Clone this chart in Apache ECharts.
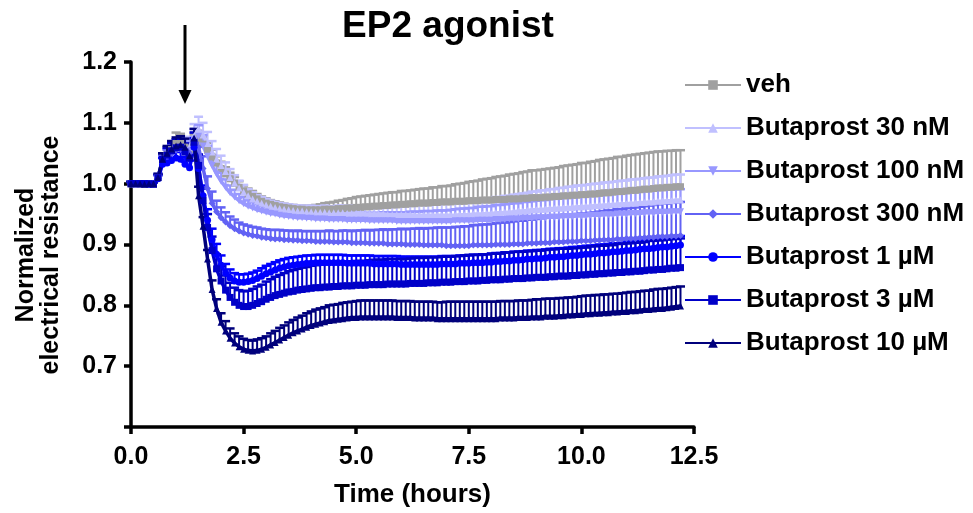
<!DOCTYPE html>
<html><head><meta charset="utf-8">
<script src="https://cdn.jsdelivr.net/npm/echarts@6/dist/echarts.min.js"></script>
<style>html,body{margin:0;padding:0;background:#fff}#c{width:973px;height:513px}</style>
</head><body><div id="c"></div>
<script>
// time (hours)
const times = [
0.0,0.1,0.2,0.3,0.4,0.5,0.6,0.7,0.8,0.9,
1.0,1.1,1.2,1.3,1.4,1.5,1.6,1.7,1.8,1.9,
2.0,2.1,2.2,2.3,2.4,2.5,2.6,2.7,2.8,2.9,
3.0,3.1,3.2,3.3,3.4,3.5,3.6,3.7,3.8,3.9,
4.0,4.1,4.2,4.3,4.4,4.5,4.6,4.7,4.8,4.9,
5.0,5.1,5.2,5.3,5.4,5.5,5.6,5.7,5.8,5.9,
6.0,6.1,6.2,6.3,6.4,6.5,6.6,6.7,6.8,6.9,
7.0,7.1,7.2,7.3,7.4,7.5,7.6,7.7,7.8,7.9,
8.0,8.1,8.2,8.3,8.4,8.5,8.6,8.7,8.8,8.9,
9.0,9.1,9.2,9.3,9.4,9.5,9.6,9.7,9.8,9.9,
10.0,10.1,10.2,10.3,10.4,10.5,10.6,10.7,10.8,10.9,
11.0,11.1,11.2,11.3,11.4,11.5,11.6,11.7,11.8,11.9,
12.0,12.1,12.2];

const seriesNames = ['veh','Butaprost 30 nM','Butaprost 100 nM','Butaprost 300 nM','Butaprost 1 µM','Butaprost 3 µM','Butaprost 10 µM'];

const vehMean = [
1.000,1.000,0.999,1.000,1.000,0.999,1.010,1.040,1.048,1.056,
1.066,1.066,1.060,1.055,1.068,1.075,1.065,1.055,1.044,1.034,
1.025,1.016,1.008,1.001,0.994,0.988,0.983,0.979,0.975,0.971,
0.968,0.966,0.964,0.962,0.961,0.960,0.959,0.958,0.958,0.957,
0.957,0.957,0.957,0.958,0.958,0.958,0.959,0.959,0.960,0.960,
0.961,0.961,0.962,0.962,0.963,0.963,0.964,0.964,0.965,0.965,
0.966,0.966,0.967,0.967,0.968,0.968,0.968,0.969,0.969,0.970,
0.970,0.970,0.971,0.971,0.971,0.972,0.972,0.972,0.973,0.973,
0.973,0.974,0.974,0.974,0.975,0.975,0.975,0.976,0.976,0.977,
0.977,0.977,0.978,0.978,0.979,0.979,0.980,0.980,0.981,0.981,
0.982,0.982,0.983,0.983,0.984,0.985,0.985,0.986,0.987,0.987,
0.988,0.989,0.989,0.990,0.991,0.991,0.992,0.993,0.993,0.994,
0.994,0.995,0.995];
const vehErr = [
0.003,0.003,0.003,0.003,0.003,0.003,0.006,0.010,0.012,0.014,
0.018,0.016,0.012,0.012,0.012,0.012,0.012,0.012,0.012,0.011,
0.011,0.011,0.010,0.010,0.010,0.009,0.009,0.009,0.008,0.008,
0.008,0.007,0.007,0.007,0.006,0.006,0.006,0.006,0.006,0.006,
0.007,0.008,0.009,0.010,0.011,0.012,0.013,0.014,0.015,0.016,
0.017,0.018,0.018,0.019,0.019,0.020,0.020,0.021,0.021,0.021,
0.022,0.022,0.022,0.023,0.023,0.024,0.024,0.025,0.025,0.026,
0.026,0.027,0.028,0.029,0.030,0.031,0.032,0.033,0.034,0.035,
0.036,0.037,0.038,0.039,0.040,0.041,0.042,0.043,0.044,0.045,
0.045,0.046,0.046,0.047,0.047,0.048,0.049,0.050,0.050,0.051,
0.052,0.052,0.053,0.054,0.055,0.055,0.056,0.056,0.057,0.057,
0.058,0.058,0.059,0.059,0.059,0.060,0.060,0.060,0.060,0.060,
0.060,0.060,0.060];

const b30Mean = [
1.000,0.999,1.000,1.000,0.999,1.000,1.010,1.038,1.046,1.053,
1.058,1.060,1.058,1.060,1.078,1.090,1.080,1.066,1.052,1.040,
1.030,1.020,1.010,1.001,0.993,0.986,0.980,0.975,0.971,0.968,
0.965,0.963,0.961,0.959,0.958,0.957,0.956,0.955,0.955,0.954,
0.954,0.953,0.953,0.953,0.952,0.952,0.952,0.952,0.951,0.951,
0.951,0.951,0.950,0.950,0.950,0.950,0.950,0.949,0.949,0.949,
0.949,0.949,0.949,0.948,0.948,0.948,0.948,0.948,0.948,0.948,
0.948,0.948,0.948,0.949,0.949,0.949,0.950,0.950,0.950,0.951,
0.951,0.952,0.952,0.953,0.953,0.954,0.955,0.955,0.956,0.957,
0.957,0.958,0.958,0.959,0.959,0.960,0.960,0.961,0.961,0.962,
0.962,0.963,0.963,0.964,0.964,0.965,0.965,0.966,0.966,0.967,
0.967,0.968,0.968,0.969,0.969,0.970,0.970,0.971,0.971,0.972,
0.972,0.973,0.973];
const b30Err = [
0.003,0.003,0.003,0.003,0.003,0.003,0.006,0.010,0.012,0.014,
0.015,0.016,0.016,0.017,0.020,0.020,0.020,0.019,0.018,0.017,
0.016,0.015,0.014,0.013,0.012,0.012,0.011,0.011,0.010,0.010,
0.010,0.009,0.009,0.009,0.009,0.009,0.009,0.009,0.009,0.009,
0.010,0.010,0.010,0.011,0.011,0.011,0.012,0.012,0.012,0.013,
0.013,0.013,0.014,0.014,0.014,0.015,0.015,0.015,0.016,0.016,
0.016,0.017,0.017,0.017,0.018,0.018,0.018,0.019,0.019,0.020,
0.020,0.021,0.021,0.022,0.022,0.023,0.023,0.024,0.024,0.025,
0.025,0.026,0.026,0.027,0.027,0.028,0.028,0.029,0.029,0.030,
0.030,0.031,0.031,0.032,0.032,0.033,0.033,0.034,0.034,0.035,
0.035,0.035,0.036,0.036,0.036,0.037,0.037,0.037,0.038,0.038,
0.038,0.039,0.039,0.039,0.040,0.040,0.040,0.041,0.041,0.041,
0.042,0.042,0.042];

const b100Mean = [
1.000,1.000,1.000,0.999,1.000,1.000,1.008,1.038,1.045,1.052,
1.057,1.058,1.054,1.055,1.072,1.078,1.062,1.045,1.030,1.016,
1.004,0.994,0.985,0.978,0.972,0.967,0.963,0.960,0.957,0.955,
0.953,0.951,0.950,0.948,0.947,0.946,0.945,0.944,0.944,0.943,
0.943,0.942,0.942,0.942,0.941,0.941,0.941,0.941,0.940,0.940,
0.940,0.940,0.940,0.939,0.939,0.939,0.939,0.939,0.939,0.938,
0.938,0.938,0.938,0.938,0.938,0.938,0.938,0.938,0.938,0.938,
0.938,0.938,0.939,0.939,0.939,0.939,0.939,0.940,0.940,0.940,
0.940,0.941,0.941,0.941,0.942,0.942,0.942,0.943,0.943,0.943,
0.944,0.944,0.944,0.945,0.945,0.945,0.946,0.946,0.946,0.947,
0.947,0.947,0.948,0.948,0.948,0.949,0.949,0.949,0.950,0.950,
0.950,0.951,0.951,0.951,0.952,0.952,0.952,0.953,0.953,0.953,
0.954,0.954,0.954];
const b100Err = [
0.003,0.003,0.003,0.003,0.003,0.003,0.006,0.010,0.012,0.013,
0.014,0.015,0.015,0.015,0.018,0.018,0.018,0.017,0.016,0.015,
0.014,0.013,0.012,0.012,0.011,0.011,0.010,0.010,0.010,0.009,
0.009,0.009,0.009,0.009,0.009,0.009,0.009,0.009,0.009,0.009,
0.009,0.010,0.010,0.010,0.010,0.011,0.011,0.011,0.011,0.012,
0.012,0.012,0.012,0.013,0.013,0.013,0.014,0.014,0.014,0.015,
0.015,0.015,0.016,0.016,0.016,0.017,0.017,0.017,0.018,0.018,
0.018,0.019,0.019,0.020,0.020,0.021,0.021,0.022,0.022,0.023,
0.023,0.024,0.024,0.025,0.025,0.026,0.026,0.027,0.027,0.028,
0.028,0.029,0.029,0.030,0.030,0.031,0.031,0.031,0.032,0.032,
0.032,0.033,0.033,0.033,0.034,0.034,0.034,0.035,0.035,0.035,
0.035,0.036,0.036,0.036,0.036,0.037,0.037,0.037,0.037,0.037,
0.037,0.037,0.037];

const b300Mean = [
1.000,1.000,0.999,1.000,1.000,1.000,1.008,1.036,1.044,1.050,
1.055,1.056,1.052,1.050,1.068,1.060,1.025,0.992,0.968,0.954,
0.944,0.937,0.931,0.926,0.922,0.919,0.917,0.915,0.914,0.912,
0.911,0.910,0.909,0.909,0.908,0.908,0.907,0.907,0.906,0.906,
0.906,0.905,0.905,0.905,0.905,0.904,0.904,0.904,0.904,0.903,
0.903,0.903,0.903,0.902,0.902,0.902,0.902,0.901,0.901,0.901,
0.901,0.900,0.900,0.900,0.900,0.899,0.899,0.899,0.899,0.899,
0.898,0.898,0.898,0.898,0.898,0.898,0.899,0.899,0.899,0.899,
0.899,0.900,0.900,0.900,0.900,0.901,0.901,0.901,0.902,0.902,
0.902,0.903,0.903,0.903,0.904,0.904,0.904,0.905,0.905,0.905,
0.906,0.906,0.906,0.907,0.907,0.908,0.908,0.908,0.909,0.909,
0.910,0.910,0.910,0.911,0.911,0.912,0.912,0.913,0.913,0.913,
0.914,0.914,0.915];
const b300Err = [
0.003,0.003,0.003,0.003,0.003,0.003,0.006,0.010,0.012,0.013,
0.014,0.014,0.014,0.014,0.016,0.018,0.020,0.020,0.019,0.018,
0.017,0.016,0.015,0.015,0.014,0.014,0.014,0.014,0.014,0.014,
0.014,0.014,0.015,0.015,0.015,0.015,0.015,0.016,0.016,0.016,
0.016,0.017,0.017,0.017,0.018,0.018,0.018,0.019,0.019,0.019,
0.020,0.020,0.021,0.021,0.022,0.022,0.023,0.023,0.024,0.024,
0.025,0.025,0.026,0.026,0.027,0.027,0.028,0.028,0.029,0.029,
0.030,0.030,0.031,0.031,0.032,0.032,0.033,0.033,0.034,0.034,
0.035,0.035,0.036,0.036,0.037,0.037,0.038,0.038,0.039,0.039,
0.040,0.040,0.041,0.041,0.042,0.042,0.043,0.043,0.044,0.044,
0.045,0.045,0.046,0.046,0.047,0.047,0.048,0.048,0.049,0.049,
0.050,0.050,0.051,0.051,0.052,0.052,0.053,0.053,0.054,0.054,
0.055,0.055,0.055];

const b1Mean = [
1.000,1.000,1.000,1.000,0.999,1.000,1.008,1.032,1.034,1.038,
1.042,1.040,1.032,1.026,1.060,1.025,0.980,0.940,0.908,0.884,
0.866,0.853,0.845,0.840,0.838,0.838,0.839,0.841,0.844,0.848,
0.852,0.855,0.858,0.861,0.863,0.865,0.866,0.867,0.868,0.869,
0.869,0.870,0.870,0.870,0.870,0.870,0.870,0.870,0.869,0.869,
0.869,0.869,0.869,0.869,0.868,0.868,0.868,0.868,0.868,0.868,
0.867,0.867,0.867,0.867,0.867,0.867,0.867,0.867,0.867,0.868,
0.868,0.868,0.868,0.869,0.869,0.869,0.870,0.870,0.870,0.871,
0.871,0.872,0.872,0.873,0.873,0.874,0.874,0.875,0.876,0.876,
0.877,0.877,0.878,0.879,0.879,0.880,0.880,0.881,0.882,0.882,
0.883,0.884,0.884,0.885,0.886,0.886,0.887,0.888,0.888,0.889,
0.890,0.890,0.891,0.892,0.893,0.893,0.894,0.895,0.896,0.896,
0.897,0.898,0.899];
const b1Err = [
0.003,0.003,0.003,0.003,0.003,0.003,0.006,0.010,0.011,0.012,
0.012,0.012,0.012,0.012,0.015,0.016,0.017,0.018,0.018,0.017,
0.016,0.015,0.014,0.013,0.013,0.013,0.013,0.013,0.013,0.013,
0.013,0.013,0.013,0.013,0.013,0.013,0.013,0.013,0.013,0.013,
0.013,0.013,0.013,0.013,0.013,0.013,0.013,0.013,0.013,0.013,
0.013,0.013,0.013,0.013,0.013,0.013,0.013,0.013,0.013,0.013,
0.013,0.013,0.013,0.013,0.013,0.013,0.013,0.013,0.013,0.013,
0.013,0.013,0.013,0.013,0.013,0.013,0.013,0.013,0.013,0.013,
0.014,0.014,0.014,0.014,0.014,0.014,0.014,0.014,0.014,0.014,
0.014,0.014,0.014,0.014,0.014,0.014,0.014,0.014,0.014,0.014,
0.014,0.014,0.014,0.014,0.014,0.014,0.014,0.014,0.014,0.014,
0.015,0.015,0.015,0.015,0.015,0.015,0.015,0.015,0.015,0.015,
0.015,0.015,0.015];

const b3Mean = [
1.000,1.000,1.000,1.000,1.000,0.999,1.010,1.040,1.047,1.054,
1.059,1.060,1.052,1.042,1.068,1.030,0.972,0.928,0.890,0.860,
0.840,0.825,0.813,0.805,0.800,0.798,0.798,0.800,0.803,0.806,
0.810,0.813,0.816,0.818,0.820,0.822,0.823,0.825,0.826,0.827,
0.828,0.829,0.829,0.830,0.830,0.831,0.831,0.832,0.832,0.832,
0.833,0.833,0.833,0.834,0.834,0.834,0.834,0.835,0.835,0.835,
0.835,0.835,0.836,0.836,0.836,0.836,0.837,0.837,0.837,0.838,
0.838,0.838,0.839,0.839,0.839,0.840,0.840,0.840,0.841,0.841,
0.842,0.842,0.842,0.843,0.843,0.844,0.844,0.844,0.845,0.845,
0.846,0.846,0.846,0.847,0.847,0.848,0.848,0.848,0.849,0.849,
0.850,0.850,0.851,0.851,0.852,0.852,0.853,0.853,0.854,0.854,
0.855,0.855,0.856,0.856,0.857,0.858,0.858,0.859,0.859,0.860,
0.861,0.861,0.862];
const b3Err = [
0.003,0.003,0.003,0.003,0.003,0.003,0.006,0.010,0.012,0.013,
0.014,0.014,0.014,0.014,0.016,0.018,0.020,0.022,0.023,0.024,
0.024,0.024,0.024,0.024,0.025,0.025,0.026,0.027,0.028,0.028,
0.029,0.030,0.031,0.032,0.033,0.034,0.035,0.035,0.036,0.036,
0.037,0.037,0.038,0.038,0.038,0.039,0.039,0.039,0.040,0.040,
0.040,0.040,0.040,0.040,0.041,0.041,0.041,0.041,0.041,0.041,
0.041,0.041,0.041,0.042,0.042,0.042,0.042,0.042,0.042,0.042,
0.042,0.042,0.042,0.042,0.043,0.043,0.043,0.043,0.043,0.043,
0.043,0.043,0.043,0.044,0.044,0.044,0.044,0.044,0.044,0.044,
0.044,0.044,0.045,0.045,0.045,0.045,0.045,0.045,0.045,0.045,
0.045,0.045,0.046,0.046,0.046,0.046,0.046,0.046,0.047,0.047,
0.047,0.047,0.047,0.047,0.047,0.048,0.048,0.048,0.048,0.048,
0.048,0.048,0.048];

const b10Mean = [
1.000,1.000,1.000,0.999,1.000,1.000,1.010,1.040,1.050,1.057,
1.062,1.064,1.060,1.046,1.075,0.980,0.930,0.876,0.826,0.795,
0.772,0.758,0.746,0.738,0.732,0.728,0.726,0.725,0.726,0.728,
0.731,0.735,0.739,0.743,0.747,0.751,0.755,0.758,0.761,0.764,
0.767,0.769,0.771,0.773,0.775,0.776,0.777,0.778,0.779,0.780,
0.780,0.781,0.781,0.781,0.781,0.781,0.781,0.781,0.781,0.780,
0.780,0.780,0.780,0.779,0.779,0.779,0.779,0.779,0.778,0.778,
0.778,0.778,0.778,0.778,0.778,0.778,0.778,0.778,0.778,0.778,
0.778,0.778,0.779,0.779,0.779,0.779,0.780,0.780,0.780,0.781,
0.781,0.781,0.782,0.782,0.782,0.783,0.783,0.784,0.784,0.785,
0.785,0.786,0.786,0.787,0.787,0.788,0.788,0.789,0.789,0.790,
0.790,0.791,0.791,0.792,0.793,0.793,0.794,0.795,0.795,0.796,
0.797,0.798,0.799];
const b10Err = [
0.003,0.003,0.003,0.003,0.003,0.003,0.006,0.010,0.012,0.013,
0.014,0.014,0.014,0.014,0.015,0.015,0.015,0.015,0.015,0.015,
0.015,0.016,0.016,0.016,0.017,0.017,0.017,0.017,0.018,0.018,
0.018,0.019,0.019,0.020,0.020,0.021,0.021,0.022,0.022,0.023,
0.023,0.024,0.024,0.024,0.025,0.025,0.025,0.026,0.026,0.026,
0.027,0.027,0.027,0.027,0.027,0.027,0.027,0.027,0.027,0.027,
0.027,0.027,0.027,0.027,0.027,0.027,0.027,0.027,0.027,0.027,
0.028,0.028,0.028,0.028,0.028,0.028,0.028,0.028,0.028,0.028,
0.028,0.028,0.028,0.028,0.028,0.028,0.028,0.028,0.028,0.028,
0.029,0.029,0.029,0.029,0.029,0.029,0.029,0.029,0.029,0.029,
0.030,0.030,0.030,0.030,0.030,0.030,0.030,0.030,0.030,0.030,
0.031,0.031,0.031,0.031,0.031,0.031,0.032,0.032,0.032,0.032,
0.032,0.032,0.032];

const xTicks = [0, 2.5, 5, 7.5, 10, 12.5];
const yTicks = [0.7, 0.8, 0.9, 1.0, 1.1, 1.2];

const FONT = '"Liberation Sans", Arial, Helvetica, sans-serif';
const colors = ['#a0a0a0', '#c0c0ff', '#9898ff', '#6262f4', '#0000ff', '#0000c8', '#00007c'];
const symbols = ['rect', 'triangle', 'triangle', 'diamond', 'circle', 'rect', 'triangle'];
const rotations = [0, 0, 180, 0, 0, 0, 0];
const means = [vehMean, b30Mean, b100Mean, b300Mean, b1Mean, b3Mean, b10Mean];
const errs = [vehErr, b30Err, b100Err, b300Err, b1Err, b3Err, b10Err];

function errRender(color) {
  return function (params, api) {
    const x = api.value(0), y = api.value(1), e = api.value(2);
    const p0 = api.coord([x, y]);
    const p1 = api.coord([x, y + e]);
    return {
      type: 'group',
      children: [
        { type: 'line', shape: { x1: p0[0], y1: p0[1], x2: p1[0], y2: p1[1] }, style: { stroke: color, lineWidth: 2 } },
        { type: 'line', shape: { x1: p1[0] - 4.5, y1: p1[1], x2: p1[0] + 4.5, y2: p1[1] }, style: { stroke: color, lineWidth: 2.5 } }
      ]
    };
  };
}

const series = [];
seriesNames.forEach((name, k) => {
  series.push({
    type: 'custom',
    name: name + ' SEM',
    renderItem: errRender(colors[k]),
    data: times.map((t, i) => [t, means[k][i], errs[k][i]]),
    encode: { x: 0, y: 1 },
    silent: true,
    animation: false
  });
  series.push({
    type: 'line',
    name: name,
    data: times.map((t, i) => [t, means[k][i]]),
    symbol: symbols[k],
    symbolRotate: rotations[k],
    symbolSize: 7,
    showSymbol: true,
    lineStyle: { color: colors[k], width: 3.5 },
    itemStyle: { color: colors[k] },
    animation: false
  });
});

const chart = echarts.init(document.getElementById('c'));
chart.setOption({
  animation: false,
  backgroundColor: '#fff',
  title: {
    text: 'EP2 agonist', left: 443, top: 3, textAlign: 'center',
    textStyle: { fontFamily: FONT, fontWeight: 'bold', fontSize: 37, color: '#000' }
  },
  grid: { left: 131, right: 279, top: 62, bottom: 85, containLabel: false },
  xAxis: {
    type: 'value', min: 0, max: 12.5, interval: 2.5,
    name: 'Time (hours)', nameLocation: 'middle', nameGap: 55,
    nameTextStyle: { fontFamily: FONT, fontWeight: 'bold', fontSize: 26, color: '#000' },
    axisLine: { show: true, lineStyle: { color: '#000', width: 3.5 } },
    axisTick: { show: true, length: 7, lineStyle: { color: '#000', width: 3.5 } },
    axisLabel: { margin: 18, fontFamily: FONT, fontWeight: 'bold', fontSize: 25, color: '#000',
      formatter: v => xTicks.some(t => Math.abs(t - v) < 1e-6) ? v.toFixed(1) : '' },
    splitLine: { show: false }
  },
  yAxis: {
    type: 'value', min: 0.6, max: 1.2, interval: 0.1,
    axisLine: { show: true, onZero: false, lineStyle: { color: '#000', width: 3.5 } },
    axisTick: { show: true, length: 7, lineStyle: { color: '#000', width: 3.5 } },
    axisLabel: { margin: 14, fontFamily: FONT, fontWeight: 'bold', fontSize: 25, color: '#000',
      formatter: v => yTicks.some(t => Math.abs(t - v) < 1e-6) ? v.toFixed(1) : '' },
    splitLine: { show: false }
  },
  legend: {
    data: seriesNames,
    orient: 'vertical', left: 679, top: 66,
    itemWidth: 56, itemHeight: 12, itemGap: 15,
    textStyle: { fontFamily: FONT, fontWeight: 'bold', fontSize: 26, color: '#000', lineHeight: 28 }
  },
  graphic: [
    { type: 'line', shape: { x1: 185, y1: 25, x2: 185, y2: 92 }, style: { stroke: '#000', lineWidth: 3 } },
    { type: 'polygon', shape: { points: [[178.5, 90], [191.5, 90], [185, 104]] }, style: { fill: '#000' } },
    { type: 'text', x: 39, y: 255, rotation: Math.PI / 2,
      style: { text: 'Normalized\nelectrical resistance', font: 'bold 25px ' + FONT, fill: '#000',
        textAlign: 'center', textVerticalAlign: 'middle', lineHeight: 25 } }
  ],
  series: series
});
</script>
</body></html>
